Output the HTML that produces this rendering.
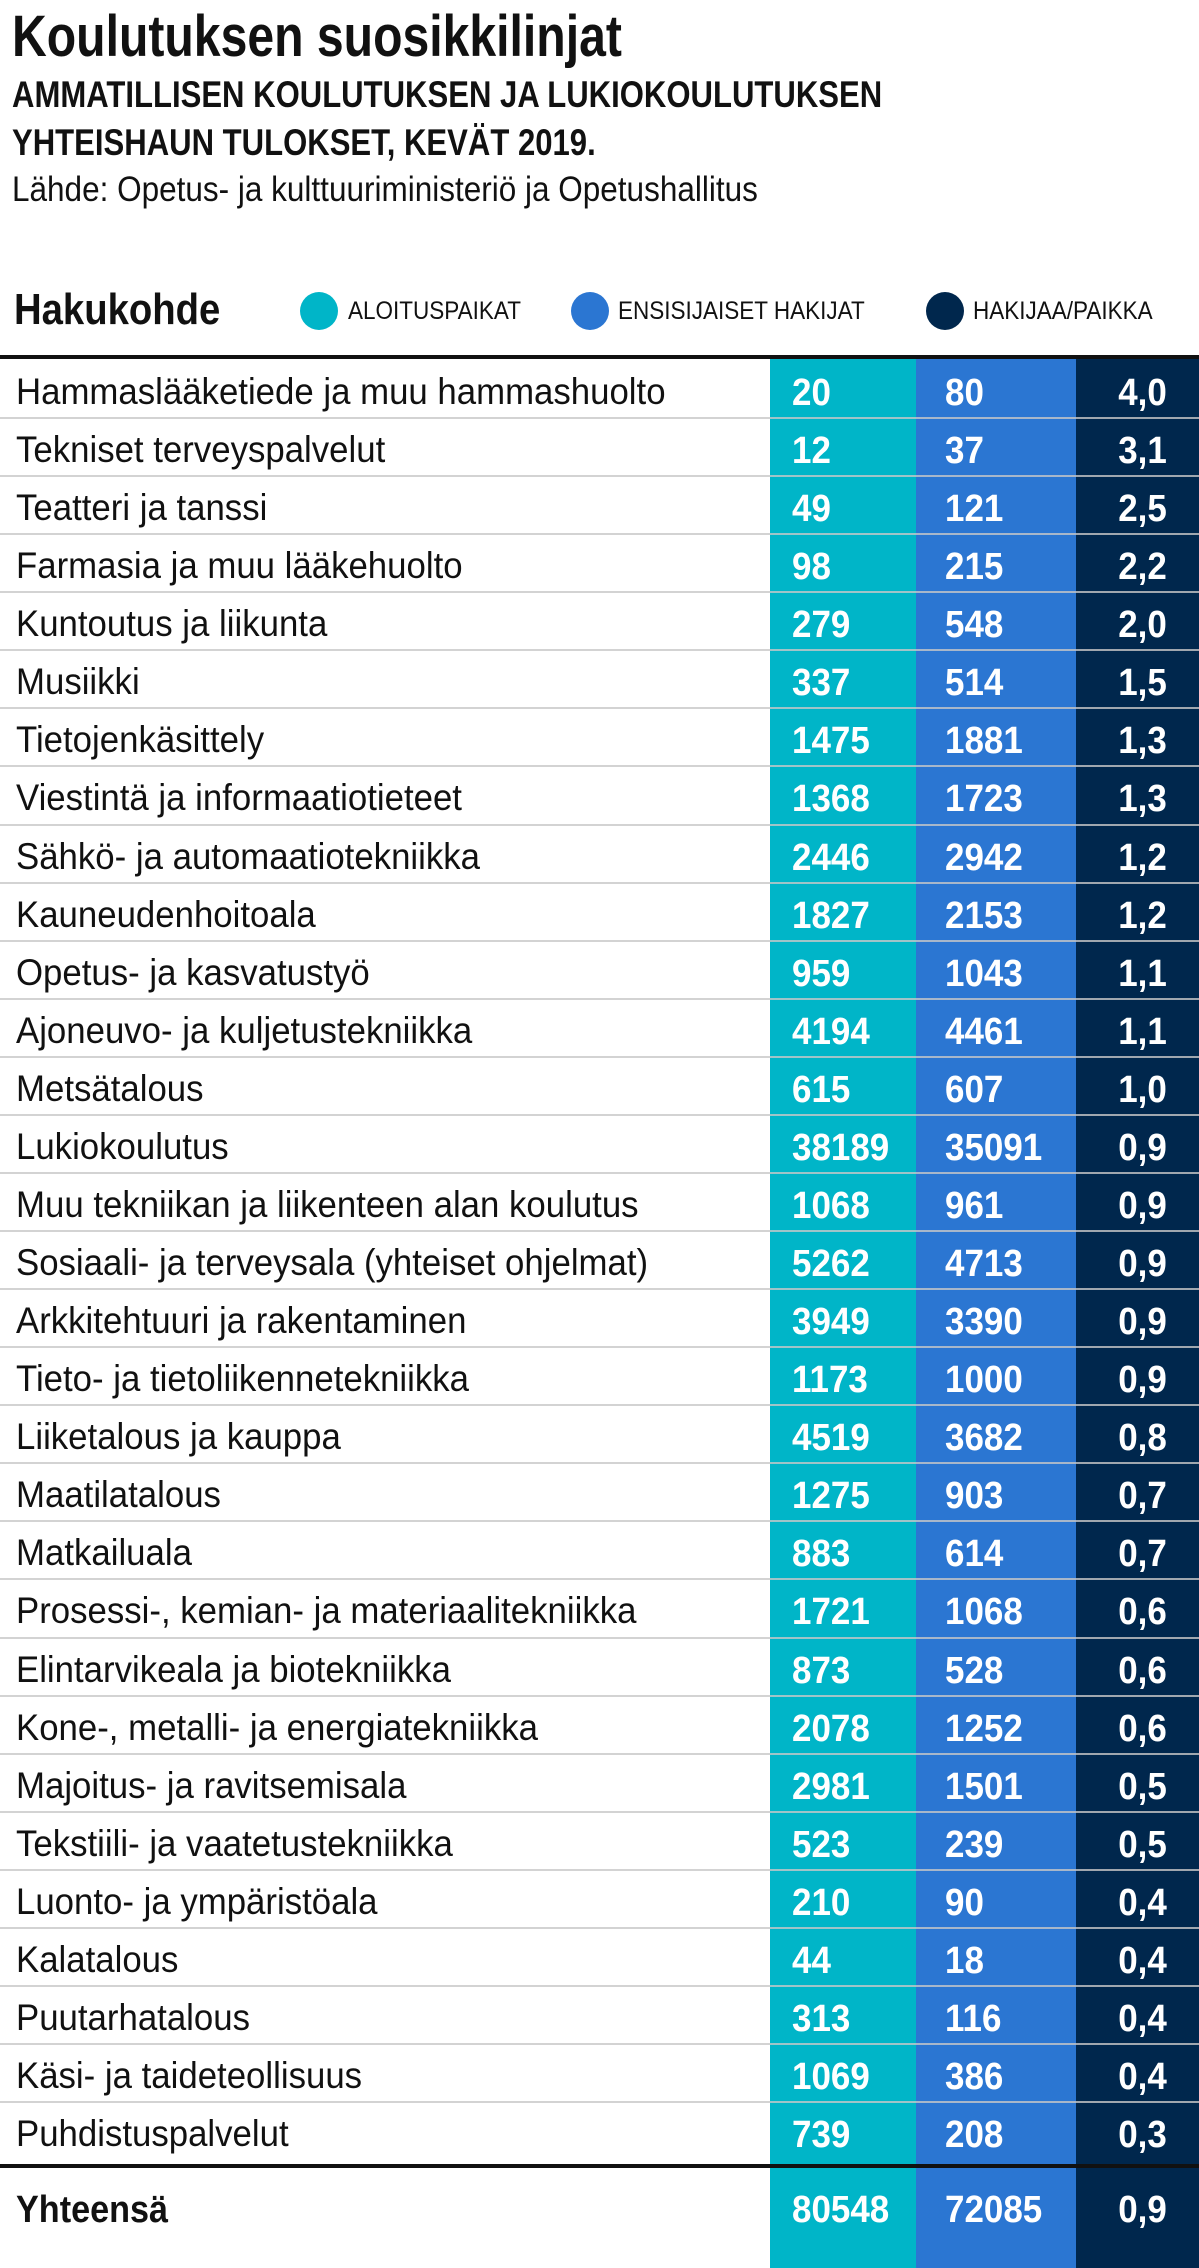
<!DOCTYPE html>
<html><head><meta charset="utf-8"><style>
body{margin:0;width:1199px;height:2268px;background:#fff;position:relative;overflow:hidden;font-family:"Liberation Sans",sans-serif;color:#111}
.t{position:absolute;white-space:nowrap;transform-origin:left bottom;line-height:1}
.r{transform-origin:right bottom}
.col{position:absolute;top:359px;height:1909px}
.line{position:absolute;left:0;width:1199px}
.dot{position:absolute;width:38px;height:38px;border-radius:50%;top:292px}
</style></head><body>
<div class="t" style="left:12px;top:8px;font-size:58px;font-weight:bold;transform:scaleX(0.83)">Koulutuksen suosikkilinjat</div>
<div class="t" style="left:12px;top:76px;font-size:37px;font-weight:bold;transform:scaleX(0.84)">AMMATILLISEN KOULUTUKSEN JA LUKIOKOULUTUKSEN</div>
<div class="t" style="left:12px;top:124px;font-size:37px;font-weight:bold;transform:scaleX(0.84)">YHTEISHAUN TULOKSET, KEVÄT 2019.</div>
<div class="t" style="left:12px;top:172px;font-size:35px;transform:scaleX(0.9)">Lähde: Opetus- ja kulttuuriministeriö ja Opetushallitus</div>
<div class="t" style="left:14px;top:288px;font-size:44px;font-weight:bold;transform:scaleX(0.87)">Hakukohde</div>
<div class="dot" style="left:300px;background:#00b5c8"></div>
<div class="t" style="left:348px;top:299px;font-size:25px;transform:scaleX(0.9)">ALOITUSPAIKAT</div>
<div class="dot" style="left:571px;background:#2b76d2"></div>
<div class="t" style="left:618px;top:299px;font-size:25px;transform:scaleX(0.9)">ENSISIJAISET HAKIJAT</div>
<div class="dot" style="left:926px;background:#00274d"></div>
<div class="t" style="left:973px;top:299px;font-size:25px;transform:scaleX(0.9)">HAKIJAA/PAIKKA</div>
<div class="col" style="left:770px;width:146px;background:#00b5c8"></div>
<div class="col" style="left:916px;width:160px;background:#2b76d2"></div>
<div class="col" style="left:1076px;width:123px;background:#00274d"></div>
<div class="line" style="top:355px;height:4px;background:#111"></div>
<div class="line" style="top:2164px;height:4px;background:#111"></div>
<div id="rows"></div>
<script>
const labels=["Hammaslääketiede ja muu hammashuolto","Tekniset terveyspalvelut","Teatteri ja tanssi","Farmasia ja muu lääkehuolto","Kuntoutus ja liikunta","Musiikki","Tietojenkäsittely","Viestintä ja informaatiotieteet","Sähkö- ja automaatiotekniikka","Kauneudenhoitoala","Opetus- ja kasvatustyö","Ajoneuvo- ja kuljetustekniikka","Metsätalous","Lukiokoulutus","Muu tekniikan ja liikenteen alan koulutus","Sosiaali- ja terveysala (yhteiset ohjelmat)","Arkkitehtuuri ja rakentaminen","Tieto- ja tietoliikennetekniikka","Liiketalous ja kauppa","Maatilatalous","Matkailuala","Prosessi-, kemian- ja materiaalitekniikka","Elintarvikeala ja biotekniikka","Kone-, metalli- ja energiatekniikka","Majoitus- ja ravitsemisala","Tekstiili- ja vaatetustekniikka","Luonto- ja ympäristöala","Kalatalous","Puutarhatalous","Käsi- ja taideteollisuus","Puhdistuspalvelut"];
const aloituspaikat=[20,12,49,98,279,337,1475,1368,2446,1827,959,4194,615,38189,1068,5262,3949,1173,4519,1275,883,1721,873,2078,2981,523,210,44,313,1069,739];
const hakijat=[80,37,121,215,548,514,1881,1723,2942,2153,1043,4461,607,35091,961,4713,3390,1000,3682,903,614,1068,528,1252,1501,239,90,18,116,386,208];
const perPaikka=["4,0","3,1","2,5","2,2","2,0","1,5","1,3","1,3","1,2","1,2","1,1","1,1","1,0","0,9","0,9","0,9","0,9","0,9","0,8","0,7","0,7","0,6","0,6","0,6","0,5","0,5","0,4","0,4","0,4","0,4","0,3"];
const total=["Yhteensä","80548","72085","0,9"];
const R=document.getElementById('rows');
function txt(s,x,y,opts){const d=document.createElement('div');d.className='t'+(opts.right?' r':'');d.textContent=s;d.style.top=y+'px';d.style.fontSize=opts.fs+'px';if(opts.bold)d.style.fontWeight='bold';d.style.color=opts.c||'#111';if(opts.right){d.style.right=(1199-x)+'px';}else d.style.left=x+'px';d.style.transform='scaleX('+opts.sx+')';R.appendChild(d);return d;}
const top0=361,rh=58.07;
labels.forEach((l,i)=>{const y=top0+i*rh;
 const a=txt(l,16,y+12,{fs:37,sx:0.94});
 const b=txt(String(aloituspaikat[i]),792,y+13,{fs:38,bold:1,sx:0.92,c:'#fff'});
 const c=txt(String(hakijat[i]),945,y+13,{fs:38,bold:1,sx:0.92,c:'#fff'});
 const d=txt(perPaikka[i],1167,y+13,{fs:38,bold:1,sx:0.92,c:'#fff',right:1});
 if(i<labels.length-1){const ln=document.createElement('div');ln.className='line';ln.style.top=Math.round(y+rh-2)+'px';ln.style.height='2px';ln.style.background='rgba(200,200,200,0.8)';
 
 R.appendChild(ln);}
});
const ty=2191;
let e=txt(total[0],16,ty,{fs:38,bold:1,sx:0.9});
e=txt(total[1],792,ty,{fs:38,bold:1,sx:0.92,c:'#fff'});
e=txt(total[2],945,ty,{fs:38,bold:1,sx:0.92,c:'#fff'});
e=txt(total[3],1167,ty,{fs:38,bold:1,sx:0.92,c:'#fff',right:1});
</script>
</body></html>
